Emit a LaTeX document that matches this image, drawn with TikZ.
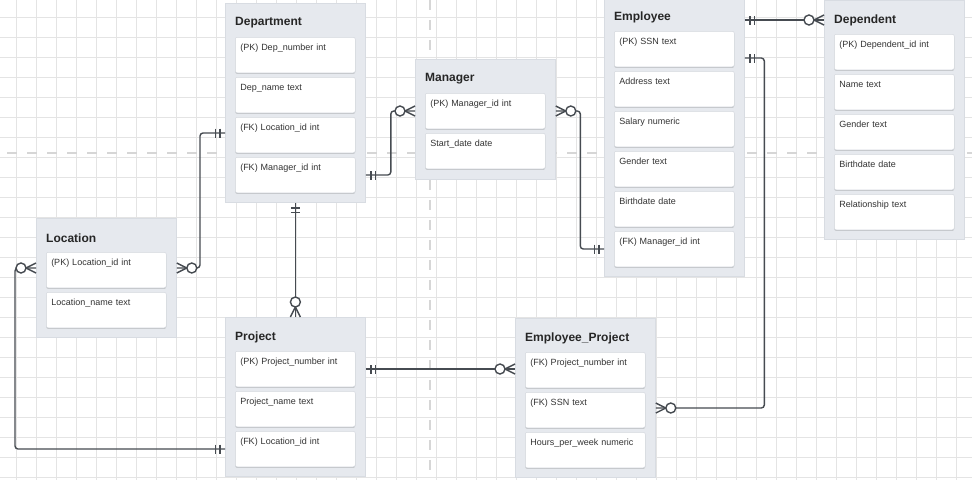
\documentclass[tikz,border=0pt]{standalone}
\usepackage{fontspec}
\setmainfont{Liberation Sans}
\usepackage{xcolor}
\usepackage{tikz}
\usetikzlibrary{calc,shadows}

\definecolor{gridgray}{HTML}{E4E4E4}
\definecolor{guidegray}{HTML}{D6D6D6}
\definecolor{boxfill}{HTML}{E6E9EE}
\definecolor{boxline}{HTML}{D8DCE2}
\definecolor{fieldline}{HTML}{D3D7DD}
\definecolor{linkgray}{HTML}{464B51}
\definecolor{textgray}{HTML}{333333}

% crow's foot ends
\pgfdeclarearrow{
  name = zeromany,
  setup code = {
    \pgfarrowssettipend{0pt}
    \pgfarrowssetlineend{0pt}
    \pgfarrowssetvisualbackend{-20pt}
    \pgfarrowssetbackend{-20pt}
    \pgfarrowshullpoint{0pt}{5pt}
    \pgfarrowshullpoint{0pt}{-5pt}
    \pgfarrowshullpoint{-20pt}{5pt}
    \pgfarrowshullpoint{-20pt}{-5pt}
  },
  drawing code = {
    \pgfsetdash{}{0pt}
    \pgfpathmoveto{\pgfqpoint{0pt}{5pt}}
    \pgfpathlineto{\pgfqpoint{-10pt}{0pt}}
    \pgfpathlineto{\pgfqpoint{0pt}{-5pt}}
    \pgfusepathqstroke
    \pgfpathcircle{\pgfqpoint{-15pt}{0pt}}{5pt}
    \pgfsetfillcolor{white}
    \pgfusepathqfillstroke
  }
}
\pgfdeclarearrow{
  name = onlyone,
  setup code = {
    \pgfarrowssettipend{0pt}
    \pgfarrowssetlineend{0pt}
    \pgfarrowssetvisualbackend{-10pt}
    \pgfarrowssetbackend{-10pt}
    \pgfarrowshullpoint{0pt}{5pt}
    \pgfarrowshullpoint{0pt}{-5pt}
    \pgfarrowshullpoint{-10pt}{5pt}
    \pgfarrowshullpoint{-10pt}{-5pt}
  },
  drawing code = {
    \pgfsetdash{}{0pt}
    \pgfpathmoveto{\pgfqpoint{-5pt}{4.5pt}}
    \pgfpathlineto{\pgfqpoint{-5pt}{-4.5pt}}
    \pgfpathmoveto{\pgfqpoint{-9.5pt}{4.5pt}}
    \pgfpathlineto{\pgfqpoint{-9.5pt}{-4.5pt}}
    \pgfusepathqstroke
  }
}

\tikzset{
  entity/.style={draw=boxline, fill=boxfill, line width=0.8pt, minimum width=140pt, anchor=north west, inner sep=0pt},
  entname/.style={anchor=west, inner sep=0pt, text=black!85, font=\bfseries\fontsize{12}{14}\selectfont},
  field/.style={draw=fieldline, fill=white, line width=0.5pt, rounded corners=2pt, anchor=north west,
    text width=110pt, align=left, inner xsep=5pt, inner ysep=4pt, text height=9pt, text depth=18.5pt,
    text=textgray, font=\fontsize{9}{10}\selectfont,
    drop shadow={shadow xshift=0pt, shadow yshift=-1.2pt, opacity=.25, fill=black!60}},
  link/.style={draw=linkgray, line width=1.4pt, rounded corners=3pt},
}

\begin{document}
\begin{tikzpicture}[x=1pt, y=-1pt]
          \useasboundingbox (0,0) rectangle (972,480);
          \fill[white] (0,0) rectangle (972,480);
          \foreach \x in {16,36,...,956}{%
            \draw[gridgray, line width=0.7pt] (\x,0) -- (\x,480);
          }
          \foreach \y in {17,37,...,477}{%
            \draw[gridgray, line width=0.7pt] (0,\y) -- (972,\y);
          }
          \draw[guidegray, line width=2.6pt, dash pattern=on 10pt off 10pt] (7,153) -- (972,153);
          \draw[guidegray, line width=2.6pt, dash pattern=on 10pt off 10pt] (430,0) -- (430,480);

          % entities
          \node[entity, minimum height=199pt] (dept) at (225,3) {};
          \node[entname] (dept-t) at (235,23) {Department};
          \foreach \t [count=\i from 1] in {(PK) Dep\_number int, Dep\_name text, (FK) Location\_id int, (FK) Manager\_id int}{%
            \node[field] (dept\i) at (235,-3+40*\i) {\t};
          }

          \node[entity, minimum height=120pt] (mgr) at (415,59) {};
          \node[entname] (mgr-t) at (425,79) {Manager};
          \foreach \t [count=\i from 1] in {(PK) Manager\_id int, Start\_date date}{%
            \node[field] (mgr\i) at (425,53+40*\i) {\t};
          }

          \node[entity, minimum height=279pt] (emp) at (604,-3) {};
          \node[entname] (emp-t) at (614,17) {Employee};
          \foreach \t [count=\i from 1] in {(PK) SSN text, Address text, Salary numeric, Gender text, Birthdate date, (FK) Manager\_id int}{%
            \node[field] (emp\i) at (614,-9+40*\i) {\t};
          }

          \node[entity, minimum height=239pt] (dpd) at (824,0) {};
          \node[entname] (dpd-t) at (834,20) {Dependent};
          \foreach \t [count=\i from 1] in {(PK) Dependent\_id int, Name text, Gender text, Birthdate date, Relationship text}{%
            \node[field] (dpd\i) at (834,-6+40*\i) {\t};
          }

          \node[entity, minimum height=119pt] (loc) at (36,218) {};
          \node[entname] (loc-t) at (46,238) {Location};
          \foreach \t [count=\i from 1] in {(PK) Location\_id int, Location\_name text}{%
            \node[field] (loc\i) at (46,212+40*\i) {\t};
          }

          \node[entity, minimum height=159pt] (proj) at (225,317) {};
          \node[entname] (proj-t) at (235,337) {Project};
          \foreach \t [count=\i from 1] in {(PK) Project\_number int, Project\_name text, (FK) Location\_id int}{%
            \node[field] (proj\i) at (235,311+40*\i) {\t};
          }

          \node[entity, minimum height=159pt] (ep) at (515,318) {};
          \node[entname] (ep-t) at (525,338) {Employee\_Project};
          \foreach \t [count=\i from 1] in {(FK) Project\_number int, (FK) SSN text, Hours\_per\_week numeric}{%
            \node[field] (ep\i) at (525,312+40*\i) {\t};
          }

          % relations
          \coordinate (empout) at ($(emp.east |- emp1)+(0,9)$);

          \draw[link, onlyone-zeromany] ([yshift=2pt]dept.west |- dept3) -- ++(-25,0) |- ([yshift=2pt]loc.east |- loc1);
          \draw[link, onlyone-zeromany] (dept.east |- dept4) -- ++(25,0) |- (mgr.west |- mgr1);
          \draw[link, zeromany-onlyone] (mgr.east |- mgr1) -- ++(24.5,0) |- (emp.west |- emp6);
          \draw[link, onlyone-zeromany] (emp.east |- dpd-t) -- (dpd.west |- dpd-t);
          \draw[link, onlyone-zeromany] (empout) -- ++(19.5,0) |- ([yshift=2pt]ep.east |- ep2);
          \draw[link, onlyone-zeromany] (proj.east |- proj1) -- (ep.west |- proj1);
          \draw[link, onlyone-zeromany] (dept.south) -- (proj.north);
          \draw[link, zeromany-onlyone] ([yshift=2pt]loc.west |- loc1) -- ++(-21,0) |- (proj.west |- proj3);
        \end{tikzpicture}
\end{document}
